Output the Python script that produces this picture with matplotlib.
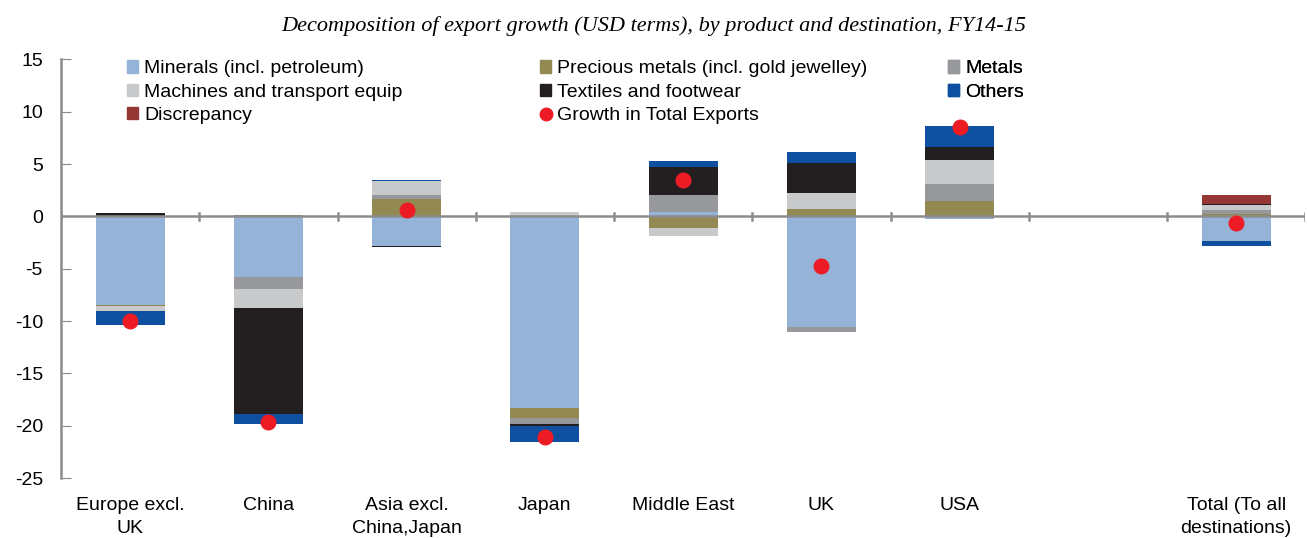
import numpy as np
import matplotlib.pyplot as plt
from matplotlib.lines import Line2D
from matplotlib.patches import Patch

plt.rcParams['font.family'] = ['Liberation Sans', 'DejaVu Sans']
plt.rcParams['axes.unicode_minus'] = False

cats = ["Europe excl.\nUK", "China", "Asia excl.\nChina,Japan", "Japan", "Middle East",
        "UK", "USA", "", "Total (To all\ndestinations)"]
minerals = [-8.5, -5.75, -2.8, -18.3, 0.4, -10.6, -0.2, 0, -2.35]
precious = [-0.05, 0.1, 1.65, -1.0, -1.15, 0.7, 1.45, 0, 0.2]
metals = [0, -1.15, 0.35, -0.55, 1.6, -0.4, 1.65, 0, 0.4]
machines = [-0.5, -1.85, 1.4, 0.45, -0.75, 1.5, 2.3, 0, 0.45]
textiles = [0.35, -10.15, -0.1, -0.15, 2.7, 2.9, 1.2, 0, 0.15]
others = [-1.3, -0.9, 0.1, -1.55, 0.6, 1.1, 2.0, 0, -0.45]
discrepancy = [0, 0, 0, 0, 0, 0, 0, 0, 0.8]
total = [-10.0, -19.6, 0.6, -21.1, 3.45, -4.7, 8.5, np.nan, -0.6]

series = [
    ("Minerals (incl. petroleum)", minerals, "#95b3d7"),
    ("Precious metals (incl. gold jewelley)", precious, "#938953"),
    ("Metals", metals, "#97989b"),
    ("Machines and transport equip", machines, "#c8c9ca"),
    ("Textiles and footwear", textiles, "#231f20"),
    ("Others", others, "#0f4fa0"),
    ("Discrepancy", discrepancy, "#953735"),
]
dot_color = "#ed1c24"

fig = plt.figure(figsize=(13.07, 5.38), dpi=100)
ax = fig.add_axes([0.0467, 0.1115, 0.952, 0.778])

x = np.arange(len(cats))
pos = np.zeros(len(cats))
neg = np.zeros(len(cats))
for name, vals, col in series:
    v = np.array(vals, dtype=float)
    bottoms = np.where(v >= 0, pos, neg)
    ax.bar(x, v, 0.5, bottom=bottoms, color=col, edgecolor="none", zorder=2)
    pos += np.where(v >= 0, v, 0)
    neg += np.where(v < 0, v, 0)

ax.plot(x, total, "o", color=dot_color, markersize=10.5, zorder=4)

ax.set_xlim(-0.5, len(cats) - 0.5)
ax.set_ylim(-25, 15)
ax.set_yticks(range(-25, 16, 5))
ax.tick_params(axis="y", direction="in", length=7, color="#888888", labelsize=14, pad=13)

# zero line with category separator ticks
ax.axhline(0, color="#8c8c8c", lw=1.8, zorder=3)
for b in np.arange(-0.5, len(cats), 1.0):
    ax.plot([b, b], [-0.35, 0.35], color="#8c8c8c", lw=1.8, zorder=3)
ax.set_xticks([])
for xi, lab in zip(x, cats):
    ax.text(xi, -0.045, lab, transform=ax.get_xaxis_transform(), ha="center", va="top",
            fontsize=14, linespacing=1.45)

for s in ["top", "right", "bottom"]:
    ax.spines[s].set_visible(False)
ax.spines["left"].set_color("#8c8c8c")
ax.spines["left"].set_linewidth(1.8)

fig.text(0.5, 0.952, "Decomposition of export growth (USD terms), by product and destination, FY14-15",
         ha="center", va="center", fontsize=16, style="italic", family="Liberation Serif")

# three legend columns placed separately
patches = {name: Patch(color=col) for name, vals, col in series}
dot = Line2D([], [], marker="o", ls="none", color=dot_color, markersize=9)
columns = [
    (0.097, ["Minerals (incl. petroleum)", "Machines and transport equip", "Discrepancy"]),
    (0.413, ["Precious metals (incl. gold jewelley)", "Textiles and footwear", "Growth in Total Exports"]),
    (0.725, ["Metals", "Others"]),
]
for xpos, names in columns:
    hs = [dot if n == "Growth in Total Exports" else patches[n] for n in names]
    leg = ax.legend(hs, names, loc="upper left", bbox_to_anchor=(xpos, 0.888),
                    bbox_transform=fig.transFigure, frameon=False, fontsize=14,
                    handlelength=0.6, handleheight=0.6, handletextpad=0.3,
                    labelspacing=0.33, borderaxespad=0, borderpad=0)
    ax.add_artist(leg)

fig.savefig("out.png", dpi=100)
